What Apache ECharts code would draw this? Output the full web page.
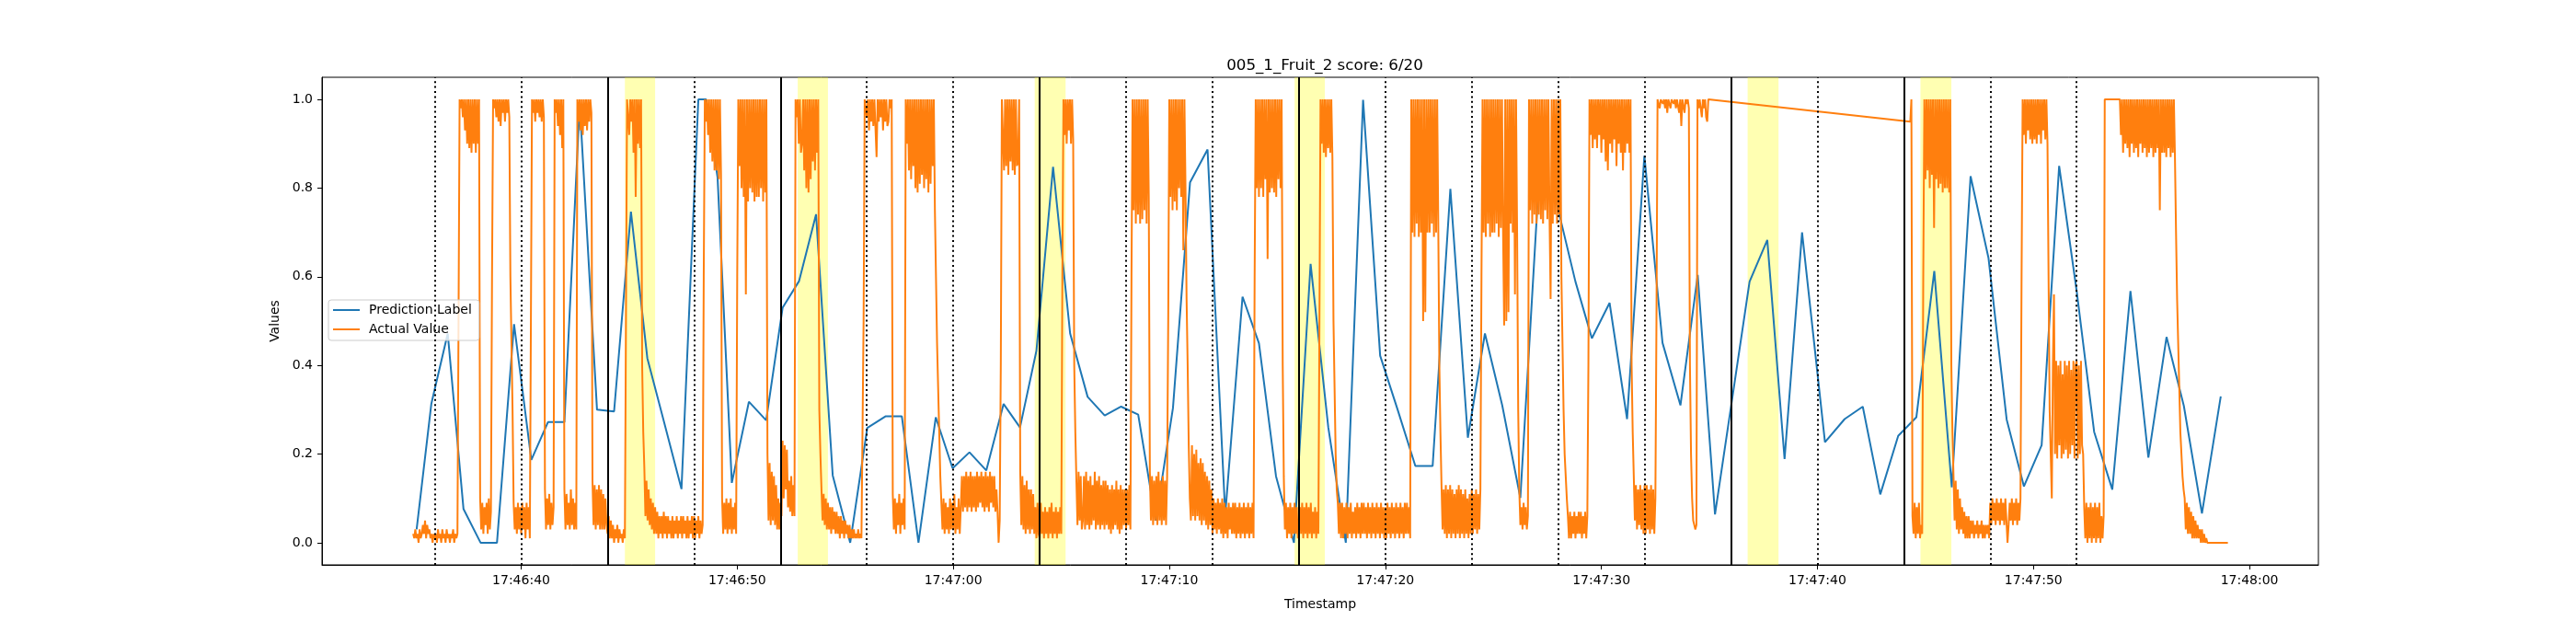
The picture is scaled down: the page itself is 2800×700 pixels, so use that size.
<!DOCTYPE html>
<html>
<head>
<meta charset="utf-8">
<title>005_1_Fruit_2</title>
<script src="https://cdn.jsdelivr.net/npm/echarts@6/dist/echarts.min.js"></script>
<style>
html, body { margin: 0; padding: 0; background: #fff; }
#chart { width: 2800px; height: 700px; }
</style>
</head>
<body>
<div id="chart"></div>
<script>
// all times are seconds after 17:46:00
var xTickSecs = [40, 50, 60, 70, 80, 90, 100, 110, 120];
var yTicks = [0, 0.2, 0.4, 0.6, 0.8, 1.0];

var dottedLines = [36, 40, 48, 56, 60, 68, 72, 80, 84, 88, 92, 100, 108, 112];
var solidLines = [44, 52, 64, 76, 96, 104];
var bandStarts = [44.8, 52.8, 63.77, 75.8, 96.77, 104.77];
var bandEnds = [46.2, 54.2, 65.2, 77.2, 98.2, 106.2];

var predSecs = [35.16,35.84,36.60,37.33,38.12,38.88,39.67,40.47,41.24,42.0,
    42.71,43.51,44.30,45.08,45.84,46.63,47.42,48.2,48.56,49.09,
    49.75,50.54,51.34,52.1,52.86,53.65,54.42,55.23,56.02,56.86,
    57.62,58.39,59.19,59.97,60.75,61.53,62.33,63.09,63.85,64.62,
    65.41,66.22,67.01,67.77,68.56,69.37,70.17,70.96,71.77,72.59,
    73.39,74.15,74.94,75.77,76.54,77.36,78.17,78.97,79.76,80.57,
    81.39,82.19,83.01,83.82,84.61,85.41,86.25,87.08,87.92,88.8,
    89.56,90.38,91.19,91.99,92.83,93.66,94.46,95.26,96.86,97.68,
    98.48,99.29,100.35,101.26,102.1,102.91,103.74,104.58,105.41,106.22,
    107.09,107.92,108.76,109.56,110.38,111.19,112.0,112.81,113.65,114.49,
    115.32,116.16,116.96,117.8,118.67];
var predValues = [0.03,0.313,0.472,0.076,0.0,0.0,0.493,0.187,0.272,0.272,
    0.99,0.30,0.296,0.747,0.416,0.269,0.121,1.0,1.0,0.824,
    0.135,0.318,0.276,0.53,0.59,0.741,0.152,0.0,0.259,0.285,
    0.285,0.0,0.283,0.168,0.204,0.163,0.313,0.26,0.433,0.848,
    0.472,0.329,0.287,0.307,0.289,0.05,0.304,0.813,0.887,0.064,
    0.555,0.45,0.15,0.0,0.629,0.26,0.0,0.999,0.422,0.30,
    0.173,0.173,0.798,0.237,0.472,0.31,0.101,0.794,0.768,0.589,
    0.461,0.541,0.279,0.873,0.451,0.31,0.604,0.064,0.589,0.683,
    0.189,0.70,0.227,0.279,0.307,0.109,0.241,0.283,0.613,0.125,
    0.827,0.642,0.278,0.127,0.22,0.85,0.568,0.25,0.12,0.568,
    0.192,0.464,0.309,0.066,0.33];

// actual value, one sample every 0.05 s, in percent; one row per second
var sampleStep = 0.05;
var actualStartA = 35.0;
var actualRunA = [
    2,1,3,1,2,0,3,1,2,4,2,5,1,4,2,3,1,2,0,2,
    1,2,0,3,1,2,0,3,1,2,0,3,1,2,0,2,1,3,0,2,
    1,2,50,100,98,100,96,100,93,100,90,100,89,100,88,100,90,100,88,100,
    90,100,10,3,9,2,8,4,9,2,10,3,7,60,100,98,100,96,100,95,
    100,94,100,97,100,95,100,97,100,96,60,45,30,9,3,8,2,9,3,8,
    2,9,3,8,1,9,3,8,1,50,100,97,100,95,100,97,100,96,100,95,
    100,96,12,3,10,4,11,3,9,4,8,100,97,100,94,100,92,100,89,100,
    12,3,11,4,9,3,12,4,10,3,9,3,100,95,100,93,100,92,100,94,
    100,93,100,95,100,97,14,4,13,3,12,4,13,3,12,3,11,3,10,4,
    2,6,1,5,1,4,0,3,1,4,0,3,1,2,0,3,1,50,100,100,
    92,100,95,100,88,100,78,100,90,100,89,100,40,25,17,6,14,5,12,4,
    10,3,9,2,8,2,7,1,6,2,6,1,7,2,6,1,6,2,5,1,
    6,1,5,2,6,1,5,2,6,1,6,2,5,1,6,1,5,2,6,1,
    6,1,5,2,6,1,5,2,4,60,100,95,100,92,100,88,100,86,100,84,
    100,84,100,82,100,83,10,2,9,3,10,2,9,3,10,2,8,3,9,2,
    60,100,85,100,80,100,78,100,56,100,77,100,80,100,79,100,77,100,78,100,
    78,100,80,100,77,100,79,100,20,5,18,4,16,5,15,4,13,3,10,3,
    9,6,23,10,22,12,21,8,14,7,15,6,13,6,100,96,100,90,100,88,
    90,100,84,100,80,100,79,100,82,100,86,100,84,100,88,100,30,20,12,5,
    11,4,10,3,9,3,8,2,8,3,7,2,7,2,6,1,6,2,5,1,
    5,2,4,1,4,1,3,1,3,1,2,1,3,1,2,1,1,50,100,100,
    96,100,93,100,95,100,94,100,100,87,100,95,100,96,100,93,100,95,100,94,
    95,100,98,100,11,3,10,2,9,4,11,2,9,4,10,3,100,90,100,84,
    100,82,100,85,100,80,100,79,100,81,100,83,100,80,100,82,100,79,100,81,
    100,85,100,75,60,45,35,25,15,9,3,10,2,9,3,8,2,10,3,9,
    3,11,2,8,3,10,2,8,15,7,15,8,16,7,15,8,16,7,15,8,
    15,7,16,8,15,9,16,8,15,7,16,8,15,7,16,9,15,8,15,7,
    12,7,0,5,40,100,100,84,100,85,100,83,100,86,100,84,100,83,100,85,
    86,100,16,4,15,3,13,2,14,3,12,2,12,3,11,2,8,1,9,2,
    1,9,2,7,1,8,2,7,1,8,2,9,1,7,2,8,1,7,2,8,
    2,60,100,92,100,90,100,93,100,90,100,91,40,25,14,4,16,5,15,3,
    5,15,3,16,4,14,3,15,4,13,5,16,3,14,4,15,3,13,4,14,
    3,14,4,13,3,12,2,13,3,12,4,14,3,12,2,13,3,12,4,12,
    3,12,4,13,3,60,100,75,100,72,100,74,100,72,100,73,100,75,100,72,
    100,78,16,5,15,4,14,5,15,4,16,5,14,4,15,5,14,4,15,50,
    100,78,100,75,100,77,100,75,100,80,100,78,100,66,100,80,55,40,22,10,
    5,22,6,20,5,21,6,18,5,19,4,18,5,16,4,15,3,14,4,12,
    2,10,3,9,2,10,3,9,2,10,1,9,2,8,1,9,3,8,2,9,
    2,9,1,8,2,9,1,8,2,9,1,8,2,9,1,8,2,9,1,60,
    100,80,100,78,100,80,100,78,100,82,100,64,100,79,100,80,100,79,100,78,
    100,82,100,80,100,40,15,3,9,1,8,2,9,1,8,2,9,2,8,1,
    1,8,2,9,1,8,2,9,1,8,2,9,1,7,2,8,1,7,2,50,
    100,90,100,88,100,87,100,89,100,88,100,87,50,35,20,12,9,2,9,1,
    9,1,8,2,9,1,8,2,9,1,7,2,8,1,9,2,8,1,9,2,
    9,2,8,1,9,2,8,1,9,2,8,1,9,2,8,1,9,2,8,1,
    8,1,9,2,8,1,9,2,8,1,9,2,8,1,9,2,8,1,9,2,
    9,2,8,1,100,70,100,69,100,72,100,69,100,70,100,50,100,52,100,70,
    100,70,100,72,100,69,100,70,100,72,40,25,13,3,12,2,13,1,12,2,
    13,1,12,2,11,1,12,2,13,1,12,2,11,1,12,2,10,1,11,2,
    12,2,11,3,12,2,11,3,12,60,100,70,100,69,100,72,100,69,100,70,
    100,70,100,72,100,69,100,71,100,70,49,100,50,100,52,100,72,100,70,100,
    56,100,70,30,12,4,8,3,9,4,8,3,6,100,75,100,72,100,74,100,
    72,100,74,100,73,100,72,100,75,100,73,100,74,55,100,72,100,74,100,72,
    100,74,100,60,45,30,20,15,10,6,1,7,1,6,2,7,1,6,2,7,
    2,7,1,6,2,7,1,6,40,100,92,100,89,100,91,100,89,100,92,100,
    88,100,91,100,86,100,84,100,90,100,88,100,91,100,85,100,90,100,88,100,
    84,100,88,100,90,100,88,100,40,25,15,5,13,3,12,4,13,3,12,2,
    13,2,13,3,12,2,13,3,12,2,10,50,100,100,98,100,100,99,100,98,
    100,97,100,100,98,100,100,99,100,98,100,100,97,100,94,100,100,97,100,99,
    100,98,40,20,10,5,4,3,4,100,98,100,100,96,100,98,100,96,95,100,
    100];
var actualStartB = 104.3;
var actualRunB = [
    95,100,6,2,9,1,8,2,9,1,4,2,60,100,
    82,100,84,100,80,100,83,100,71,100,82,100,80,100,81,100,79,100,80,100,
    80,100,79,100,40,25,15,5,14,3,12,2,10,3,8,2,7,1,6,1,
    6,1,5,2,5,1,4,2,5,1,4,2,5,1,4,1,4,2,4,1,
    9,4,10,5,9,4,10,5,9,4,10,5,9,4,10,5,0,4,9,5,
    10,4,9,5,10,4,9,5,10,60,100,92,100,90,100,93,100,91,100,90,
    100,91,100,90,100,92,100,90,100,93,100,91,100,90,60,30,20,10,40,56,
    20,41,19,40,22,41,19,38,20,41,21,40,19,41,20,39,22,41,19,40,
    41,19,40,20,41,22,20,8,1,9,0,8,1,9,0,8,1,9,0,8,
    1,9,0,6,1,6,100,100,100,100,100,100,100,100,100,100,100,100,100,100,
    100,92,100,88,100,90,100,89,100,87,100,90,100,88,100,89,100,87,100,90,
    100,88,100,89,100,87,100,88,100,89,100,87,100,88,100,89,100,75,100,88,
    100,88,100,87,100,89,100,87,100,88,100,87,70,55,45,35,25,20,15,12,
    10,3,9,2,8,2,7,1,6,1,5,1,4,1,3,0,3,0,2,0,
    1,0,0,0,0,0,0,0,0,0,0,0,0,0,0,0,0,0,0,0,
    0];

var predData = predSecs.map(function (s, i) { return [s, predValues[i]]; });
var actualData = [];
actualRunA.forEach(function (v, i) { actualData.push([actualStartA + i * sampleStep, v / 100]); });
actualRunB.forEach(function (v, i) { actualData.push([actualStartB + i * sampleStep, v / 100]); });

function secLabel(v) {
    var s = Math.round(v);
    var m = 46 + Math.floor(s / 60);
    var ss = s % 60;
    return '17:' + m + ':' + (ss < 10 ? '0' + ss : ss);
}

var vLines = [];
dottedLines.forEach(function (s) {
    vLines.push({ xAxis: s, lineStyle: { type: [2, 3.4] } });
});
solidLines.forEach(function (s) {
    vLines.push({ xAxis: s, lineStyle: { type: 'solid' } });
});
var bands = bandStarts.map(function (s, i) { return [{ xAxis: s }, { xAxis: bandEnds[i] }]; });

var chart = echarts.init(document.getElementById('chart'));
var option = {
    animation: false,
    backgroundColor: '#fff',
    textStyle: { fontFamily: 'DejaVu Sans', color: '#000' },
    title: {
        text: '005_1_Fruit_2 score: 6/20',
        left: 1435,
        textAlign: 'center',
        top: 58,
        textStyle: { fontFamily: 'DejaVu Sans', fontSize: 16.7, fontWeight: 'normal', color: '#000' }
    },
    legend: {
        orient: 'vertical',
        left: 357,
        top: 326,
        data: ['Prediction Label', 'Actual Value'],
        icon: 'rect',
        itemWidth: 29,
        itemHeight: 2,
        itemGap: 7,
        padding: [4, 8, 5, 5],
        backgroundColor: 'rgba(255,255,255,0.8)',
        borderColor: '#cccccc',
        borderWidth: 1,
        borderRadius: 3,
        textStyle: { fontFamily: 'DejaVu Sans', fontSize: 14, color: '#000', padding: [0, 0, 0, 5] }
    },
    grid: {
        left: 350, right: 280, top: 84, bottom: 86,
        show: true, borderColor: '#000', borderWidth: 1, backgroundColor: 'transparent'
    },
    xAxis: {
        type: 'value',
        min: 30.78,
        max: 123.19,
        name: 'Timestamp',
        nameLocation: 'middle',
        nameGap: 36,
        nameTextStyle: { fontFamily: 'DejaVu Sans', fontSize: 14, color: '#000' },
        axisLine: { show: true, onZero: false, lineStyle: { color: '#000', width: 1 } },
        axisTick: { show: true, length: 5, lineStyle: { color: '#000' }, customValues: xTickSecs },
        axisLabel: { customValues: xTickSecs, formatter: secLabel, color: '#000', fontSize: 14, margin: 10 },
        splitLine: { show: false }
    },
    yAxis: {
        type: 'value',
        min: -0.05,
        max: 1.05,
        name: 'Values',
        nameLocation: 'middle',
        nameGap: 42,
        nameTextStyle: { fontFamily: 'DejaVu Sans', fontSize: 14, color: '#000' },
        axisLine: { show: true, onZero: false, lineStyle: { color: '#000', width: 1 } },
        axisTick: { show: true, length: 5, lineStyle: { color: '#000' }, customValues: yTicks },
        axisLabel: { customValues: yTicks, formatter: function (v) { return v.toFixed(1); }, color: '#000', fontSize: 14, margin: 10 },
        splitLine: { show: false }
    },
    series: [
        {
            name: 'bands',
            type: 'line',
            data: [],
            z: 1,
            markArea: {
                silent: true,
                itemStyle: { color: 'rgba(255,255,0,0.3)' },
                data: bands
            }
        },
        {
            name: 'Prediction Label',
            type: 'line',
            data: predData,
            showSymbol: false,
            color: '#1f77b4',
            lineStyle: { color: '#1f77b4', width: 2 },
            z: 2
        },
        {
            name: 'Actual Value',
            type: 'line',
            data: actualData,
            showSymbol: false,
            color: '#ff7f0e',
            lineStyle: { color: '#ff7f0e', width: 2 },
            z: 3
        },
        {
            name: 'cuts',
            type: 'line',
            data: [],
            z: 4,
            markLine: {
                silent: true,
                symbol: ['none', 'none'],
                label: { show: false },
                lineStyle: { color: '#000', width: 2 },
                data: vLines
            }
        }
    ]
};
chart.setOption(option);
</script>
</body>
</html>
